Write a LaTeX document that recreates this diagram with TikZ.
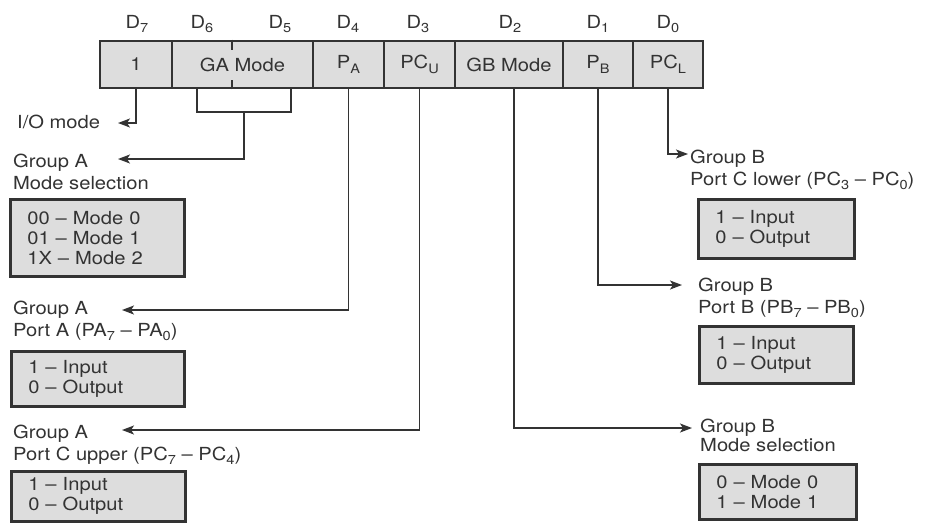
\documentclass[tikz,border=0pt]{standalone}
\usepackage{fontspec}
\setmainfont[FakeStretch=1.12]{TeX Gyre Heros}
\usetikzlibrary{arrows.meta}
\definecolor{ink}{HTML}{333333}
\definecolor{cellfill}{HTML}{DDDDDD}
\newcommand\lowsub[1]{\raisebox{-0.5ex}{\fontsize{13}{13}\selectfont #1}}
\begin{document}
\begin{tikzpicture}[x=1pt,y=-1pt,
  font=\fontsize{18}{22}\selectfont, text=ink,
  cell/.style={draw=ink, line width=2.6pt, fill=cellfill, minimum height=47pt, inner sep=0pt},
  lbl/.style={anchor=base west, align=left, inner sep=0pt},
  dl/.style={anchor=base, inner sep=0pt},
  optbox/.style={draw=ink, line width=2.6pt, fill=cellfill, align=left, anchor=north west,
                 inner xsep=17pt, inner ysep=0pt, font=\fontsize{18}{20}\selectfont},
  conn/.style={draw=ink, line width=1.6pt},
  arr/.style={conn, -{Stealth[length=12pt,width=9pt,inset=3pt]}},
]
\useasboundingbox[fill=white] (0,0) rectangle (925,525);

% register cells
\node[cell, minimum width=72pt]  (c7)  at (136,64.5)   {1};
\node[cell, minimum width=141pt] (ga)  at (242.5,64.5) {GA Mode};
\node[cell, minimum width=71pt]  (pa)  at (348.5,64.5) {P\lowsub{A}};
\node[cell, minimum width=71pt]  (pcu) at (419.5,64.5) {PC\lowsub{U}};
\node[cell, minimum width=108pt] (gb)  at (509,64.5)   {GB Mode};
\node[cell, minimum width=70pt]  (pb)  at (598,64.5)   {P\lowsub{B}};
\node[cell, minimum width=70pt]  (pcl) at (668,64.5)   {PC\lowsub{L}};

% ticks inside GA Mode
\draw[conn] ([xshift=-10.5pt]ga.north) -- ++(0,10);
\draw[conn] ([xshift=-10.5pt]ga.south) -- ++(0,-9);

% bit labels
\node[dl] (d7) at (137,28) {D\lowsub{7}};
\node[dl] (d6) at (202,28) {D\lowsub{6}};
\node[dl] (d5) at (280,28) {D\lowsub{5}};
\node[dl] (d4) at (348,28) {D\lowsub{4}};
\node[dl] (d3) at (418,28) {D\lowsub{3}};
\node[dl] (d2) at (510,28) {D\lowsub{2}};
\node[dl] (d1) at (598,28) {D\lowsub{1}};
\node[dl] (d0) at (668,28) {D\lowsub{0}};

% text labels (anchored at the baseline of the last line)
\node[lbl] (io)   at (17,128)  {I/O mode};
\node[lbl] (gam)  at (13,189)  {Group A\\Mode selection};
\node[lbl] (gpa)  at (13,336)  {Group A\\Port A (PA\lowsub{7} – PA\lowsub{0})};
\node[lbl] (gpc)  at (13,460)  {Group A\\Port C upper (PC\lowsub{7} – PC\lowsub{4})};
\node[lbl] (gbl)  at (690,185) {Group B\\Port C lower (PC\lowsub{3} – PC\lowsub{0})};
\node[lbl] (gbb)  at (698,313) {Group B\\Port B (PB\lowsub{7} – PB\lowsub{0})};
\node[lbl, font=\fontsize{18}{19}\selectfont] (gbm) at (700,451) {Group B\\Mode selection};

% option boxes
\node[optbox, minimum width=174pt, minimum height=77pt, text width=140pt] (b1) at (9,198)
  {00 – Mode 0\\01 – Mode 1\\1X – Mode 2};
\node[optbox, minimum width=173pt, minimum height=55pt, text width=139pt] (b2) at (10,350)
  {1 – Input\\0 – Output};
\node[optbox, minimum width=174pt, minimum height=50pt, text width=140pt] (b3) at (10,470)
  {1 – Input\\0 – Output};
\node[optbox, minimum width=156pt, minimum height=59pt, text width=122pt] (b4) at (697,198)
  {1 – Input\\0 – Output};
\node[optbox, minimum width=154pt, minimum height=57pt, text width=120pt] (b5) at (698,325)
  {1 – Input\\0 – Output};
\node[optbox, minimum width=157pt, minimum height=55pt, text width=123pt] (b6) at (698,463)
  {0 – Mode 0\\1 – Mode 1};

% arrow end points
\coordinate (tio)  at (118,123);
\coordinate (tgam) at (118,159);
\coordinate (tpa)  at (122,310);
\coordinate (tpc)  at (122,430);
\coordinate (tpcl) at (688,154);
\coordinate (tpb)  at (682,285);
\coordinate (tgb)  at (692,428);
\coordinate (bl) at (197,112);
\coordinate (br) at (291,112);
\coordinate (bm) at (244,112);

% connectors
\draw[arr] (c7.south) |- (tio);
\draw[conn] (bl |- ga.south) -- (bl) -- (br) -- (br |- ga.south);
\draw[arr] (bm) |- (tgam);
\draw[arr] (pa.south) |- (tpa);
\draw[arr] (pcu.south) |- (tpc);
\draw[arr] ([xshift=5pt]gb.south) |- (tgb);
\draw[arr] (pb.south) |- (tpb);
\draw[arr] (pcl.south) |- (tpcl);
\end{tikzpicture}
\end{document}
